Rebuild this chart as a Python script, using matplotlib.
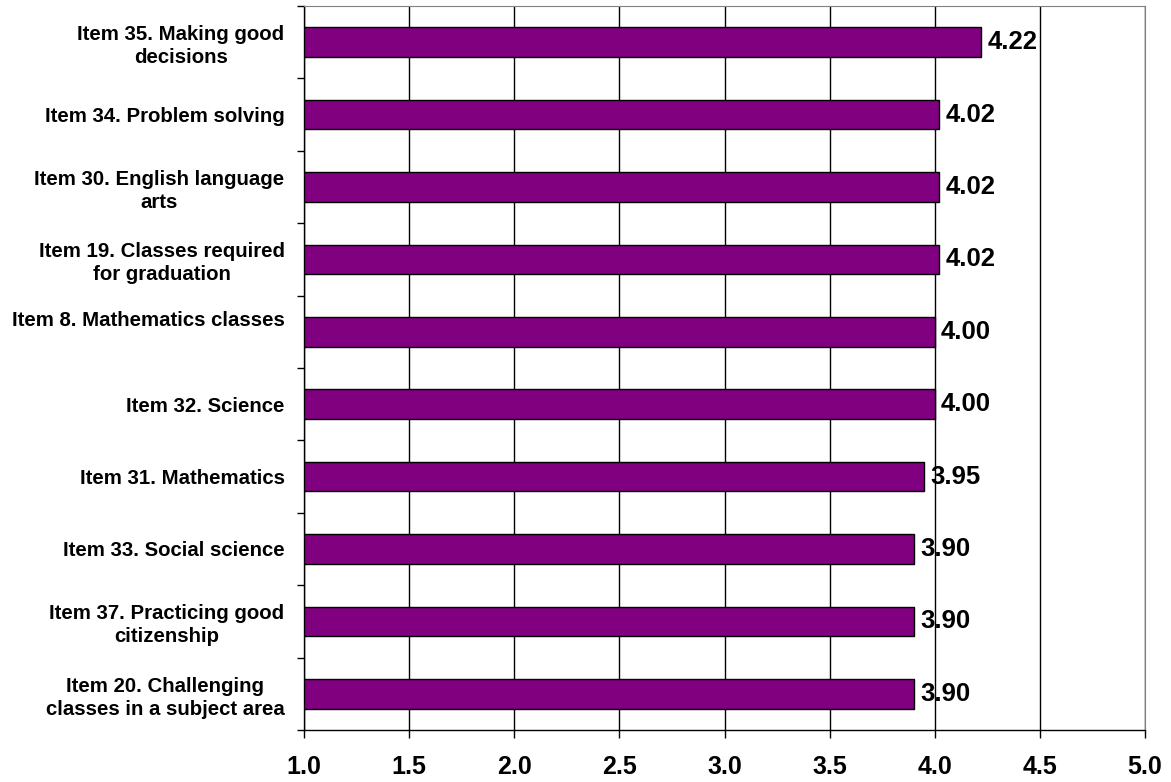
import matplotlib
matplotlib.use("Agg")
import matplotlib.pyplot as plt
import matplotlib.transforms as mtransforms
import numpy as np

categories = [
    "Item 35. Making good\ndecisions",
    "Item 34. Problem solving",
    "Item 30. English language\narts",
    "Item 19. Classes required\nfor graduation",
    "Item 8. Mathematics classes",
    "Item 32. Science",
    "Item 31. Mathematics",
    "Item 33. Social science",
    "Item 37. Practicing good\ncitizenship",
    "Item 20. Challenging\nclasses in a subject area",
]
values = [4.22, 4.02, 4.02, 4.02, 4.00, 4.00, 3.95, 3.90, 3.90, 3.90]
value_labels = ["4.22", "4.02", "4.02", "4.02", "4.00", "4.00", "3.95", "3.90", "3.90", "3.90"]
xticks = [1.0, 1.5, 2.0, 2.5, 3.0, 3.5, 4.0, 4.5, 5.0]

plt.rcParams['font.family'] = ['Liberation Sans', 'DejaVu Sans']

fig = plt.figure(figsize=(11.71, 7.82), dpi=100)
ax = fig.add_axes([304/1171, 1 - 730/782, (1145-304)/1171, (730-6)/782])

n = len(categories)
ypos = np.arange(n)[::-1]
base = 1.0
ax.barh(ypos, np.array(values) - base, left=base, height=0.41,
        color="#800080", edgecolor="black", linewidth=1.0, zorder=3)

for y, v, lab in zip(ypos, values, value_labels):
    ax.text(v + 0.03, y, lab, va="center", ha="left", fontsize=18.5,
            fontweight="bold", zorder=4)

ax.set_xlim(1.0, 5.0)
ax.set_ylim(-0.5, n - 0.5)
ax.set_xticks(xticks)
ax.set_xticklabels([f"{t:.1f}" for t in xticks], fontsize=18, fontweight="bold")
ax.xaxis.grid(True, color="black", linewidth=1.0, zorder=0)

ax.set_yticks(ypos)
ax.set_yticklabels(categories, fontsize=14.7, fontweight="bold", ha="right",
                   multialignment="center", linespacing=1.25)
ax.tick_params(axis="y", length=0, pad=14)
ax.set_yticks(np.arange(-0.5, n, 1.0), minor=True)
ax.tick_params(axis="y", which="minor", length=5, width=1, color="black")
ax.tick_params(axis="x", length=6, width=1, pad=12)

# the "Item 8" label sits a little above its bar in the original
for lbl in ax.get_yticklabels():
    if lbl.get_text().startswith("Item 8."):
        lbl.set_transform(lbl.get_transform() +
                          mtransforms.ScaledTranslation(0, 13/100, fig.dpi_scale_trans))

for s in ["top", "right"]:
    ax.spines[s].set_color("#808080")
for s in ["left", "bottom"]:
    ax.spines[s].set_color("black")
    ax.spines[s].set_linewidth(1.0)

fig.savefig("out.png", dpi=100)
